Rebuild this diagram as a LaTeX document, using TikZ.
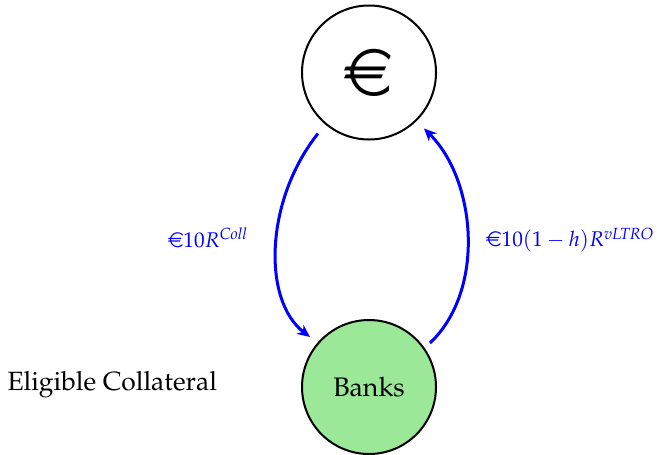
\documentclass[tikz,border=0pt]{standalone}
\usepackage[T1]{fontenc}
\usepackage{mathpazo}
\usepackage{eurosym}
\usetikzlibrary{arrows.meta}
\definecolor{bankgreen}{RGB}{154,232,152}
\tikzset{
  circ/.style={circle,draw=black,line width=0.8pt,minimum size=134*0.4pt,inner sep=0pt,font=\fontsize{10.7}{12}\selectfont},
  flow/.style={draw=blue,line width=1.2pt,-{Stealth[length=5pt,width=4.5pt,inset=1.5pt]}},
  flowlabel/.style={text=blue,inner sep=0pt,font=\fontsize{8.5}{10}\selectfont}
}
\begin{document}
\begin{tikzpicture}[x=0.4pt,y=-0.4pt]
\useasboundingbox (0,0) rectangle (657,454);
\node[circ] (euro) at (369,72.5) {\fontsize{26.5}{26.5}\selectfont\officialeuro};
\node[circ,fill=bankgreen] (banks) at (369,387) {Banks};
\node[inner sep=0pt,anchor=west,font=\fontsize{10.55}{12}\selectfont] (elig) at (7,385) {Eligible Collateral};
\path (euro.center) ++(-51,61) coordinate (s1);
\path (banks.center) ++(-59,-50) coordinate (e1);
\path (banks.center) ++(61,-44) coordinate (s2);
\path (euro.center) ++(55,56) coordinate (e2);
\draw[flow] (s1) .. controls (265,200) and (262,300) .. (e1);
\draw[flow] (s2) .. controls (486,290) and (476,180) .. (e2);
\node[flowlabel] (l1) at (208,238) {\euro$10R^{\mathit{Coll}}$};
\node[flowlabel,anchor=east] (l2) at (655,240) {\euro$10(1-h)R^{\mathit{vLTRO}}$};
\end{tikzpicture}
\end{document}
